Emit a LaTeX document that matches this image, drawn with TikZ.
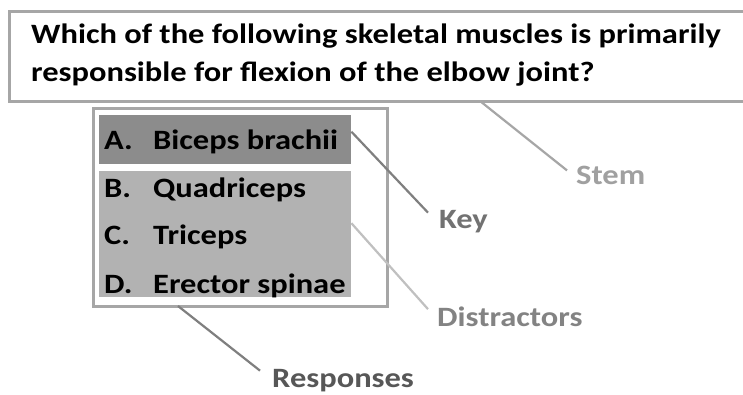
\documentclass[tikz,border=0pt]{standalone}
\usepackage{fontspec}
\setmainfont{Carlito}[FakeStretch=1.16]
\definecolor{boxgray}{HTML}{A6A6A6}
\definecolor{keyfill}{HTML}{8C8C8C}
\definecolor{distfill}{HTML}{B2B2B2}
\definecolor{stemcol}{HTML}{A0A0A0}
\definecolor{keycol}{HTML}{727272}
\definecolor{distcol}{HTML}{838383}
\definecolor{respcol}{HTML}{575757}
\definecolor{keyline}{HTML}{7F7F7F}
\definecolor{distline}{HTML}{C0C0C0}
\begin{document}
\begin{tikzpicture}[x=1pt,y=-1pt,
  qtext/.style={anchor=base west,inner sep=0pt,font=\fontsize{28}{34}\selectfont\bfseries},
  lab/.style={anchor=base west,inner sep=0pt,font=\fontsize{28}{32}\selectfont\bfseries},
  conn/.style={line width=2.2pt}]
\useasboundingbox (0,0) rectangle (743,395);
\fill[white] (0,0) rectangle (743,395);
% stem box
\node[draw=boxgray,line width=3pt,minimum width=752pt,minimum height=90pt,anchor=north west,inner sep=0pt] (stembox) at (8,10.5) {};
\node[qtext] (q1) at (31,44) {Which of the following skeletal muscles is primarily};
\node[qtext] (q2) at (31,82) {responsible for flexion of the elbow joint?};
% responses box
\node[draw=boxgray,line width=3pt,minimum width=294pt,minimum height=198pt,anchor=north west,inner sep=0pt] (respbox) at (92,107) {};
\node[fill=keyfill,minimum width=252pt,minimum height=49pt,anchor=north west,inner sep=0pt] (keybox) at (99,115) {};
\node[fill=distfill,minimum width=252pt,minimum height=126pt,anchor=north west,inner sep=0pt] (distbox) at (99,171) {};
\node[qtext] (oa) at (104,150) {\makebox[49pt][l]{A.}Biceps brachii};
\node[qtext] (ob) at (104,197) {\makebox[49pt][l]{B.}Quadriceps};
\node[qtext] (oc) at (104,244) {\makebox[49pt][l]{C.}Triceps};
\node[qtext] (od) at (104,293) {\makebox[49pt][l]{D.}Erector spinae};
% labels
\node[lab,text=stemcol] (stemlab) at (576,185) {Stem};
\node[lab,text=keycol] (keylab) at (439,228) {Key};
\node[lab,text=distcol] (distlab) at (437,326) {Distractors};
\node[lab,text=respcol] (resplab) at (272,387) {Responses};
% connectors
\coordinate (stemstart) at (480,101);
\draw[conn,draw=boxgray] (stemstart) -- ([xshift=-9pt,yshift=-4pt]stemlab.north west);
\draw[conn,draw=keyline] ([yshift=8pt]keybox.east) -- ([xshift=-11pt,yshift=-3pt]keylab.north west);
\draw[conn,draw=distline] ([yshift=11pt]distbox.east) -- ([xshift=-9pt,yshift=-3pt]distlab.north west);
\draw[conn,draw=keyline] ([xshift=86pt,yshift=2pt]respbox.south west) -- ([xshift=-12pt,yshift=-2pt]resplab.north west);
\end{tikzpicture}
\end{document}
